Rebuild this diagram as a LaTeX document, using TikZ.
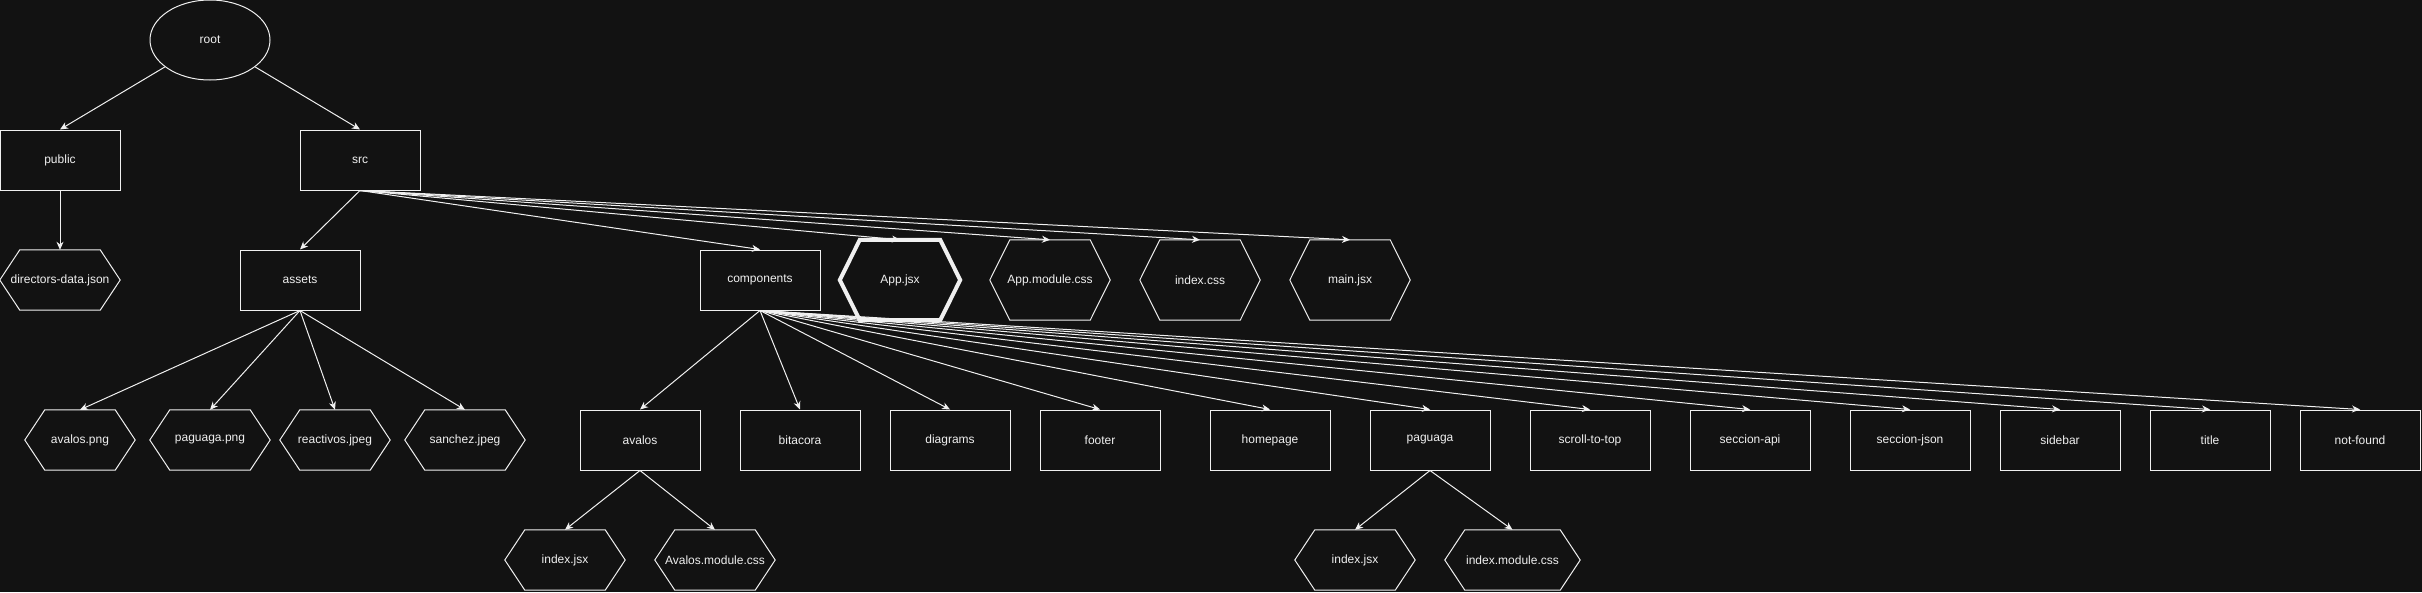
\documentclass[tikz,border=0pt]{standalone}
\usepackage{fontspec}
\setmainfont{Liberation Sans}
\usetikzlibrary{arrows.meta,shapes.geometric}
\definecolor{canvas}{HTML}{121212}
\definecolor{ink}{HTML}{F0F0F0}

\begin{document}
\begin{tikzpicture}[x=1pt, y=-1pt,
        every node/.style={font=\fontsize{12}{14}\selectfont, text=ink},
        folder/.style={draw=ink, line width=1pt, minimum width=120pt,
                       minimum height=60pt, inner sep=0pt},
        file/.style={minimum width=#1, minimum height=60pt, inner sep=0pt},
        file/.default=120pt,
        tall file/.style={minimum width=120pt, minimum height=80pt, inner sep=0pt},
        outline/.style={draw=ink, line width=1pt, line join=miter},
        link/.style={draw=ink, line width=1pt,
                     -{Stealth[length=8pt, width=7pt, inset=2.5pt]}},
    ]
        % Canvas
        \fill[canvas] (0,0) rectangle (2422,592);
        \useasboundingbox (0,0) rectangle (2422,592);

        % Root
        \node[draw=ink, ellipse, line width=1pt, minimum width=120pt,
              minimum height=80pt, inner sep=0pt] (root) at (210,40) {root};

        % First level
        \node[folder] (public) at (60,160) {public};
        \node[folder] (src) at (360,160) {src};

        % Second level
        \node[file] (dirjson) at (60,280) {directors-data.json};
        \node[folder] (assets) at (300,280) {assets};
        \node[folder] (components) at (760,280) {components};
        \node[tall file] (appjsx) at (900,280) {App.jsx};
        \node[tall file] (appcss) at (1050,280) {App.module.css};
        \node[tall file] (indexcss) at (1200,280) {index.css};
        \node[tall file] (mainjsx) at (1350,280) {main.jsx};

        % Assets
        \node[file=110pt] (avpng) at (80,440) {avalos.png};
        \node[file] (pagpng) at (210,440) {paguaga.png};
        \node[file=110pt] (reajpeg) at (335,440) {reactivos.jpeg};
        \node[file] (sanjpeg) at (465,440) {sanchez.jpeg};

        % Components
        \node[folder] (avalos) at (640,440) {avalos};
        \node[folder] (bitacora) at (800,440) {bitacora};
        \node[folder] (diagrams) at (950,440) {diagrams};
        \node[folder] (footer) at (1100,440) {footer};
        \node[folder] (homepage) at (1270,440) {homepage};
        \node[folder] (paguaga) at (1430,440) {paguaga};
        \node[folder] (scroll) at (1590,440) {scroll-to-top};
        \node[folder] (secapi) at (1750,440) {seccion-api};
        \node[folder] (secjson) at (1910,440) {seccion-json};
        \node[folder] (sidebar) at (2060,440) {sidebar};
        \node[folder] (title) at (2210,440) {title};
        \node[folder] (notfound) at (2360,440) {not-found};

        % Component files
        \node[file] (avindex) at (565,560) {index.jsx};
        \node[file] (avcss) at (715,560) {Avalos.module.css};
        \node[file] (pgindex) at (1355,560) {index.jsx};
        \node[file=135pt] (pgcss) at (1512.5,560) {index.module.css};

        % Hexagon outlines
        \foreach \f in {dirjson,appcss,indexcss,mainjsx,avpng,pagpng,reajpeg,sanjpeg,avindex,avcss,pgindex,pgcss}
            \draw[outline] ([xshift=20pt]\f.north west) -- ([xshift=-20pt]\f.north east)
                -- (\f.east) -- ([xshift=-20pt]\f.south east)
                -- ([xshift=20pt]\f.south west) -- (\f.west) -- cycle;
        \draw[outline, line width=4pt] ([xshift=20pt]appjsx.north west)
            -- ([xshift=-20pt]appjsx.north east) -- (appjsx.east)
            -- ([xshift=-20pt]appjsx.south east) -- ([xshift=20pt]appjsx.south west)
            -- (appjsx.west) -- cycle;

        % Arrows
        \draw[link] (root) -- (public.north);
        \draw[link] (root) -- (src.north);
        \draw[link] (public.south) -- (dirjson.north);
        \draw[link] (src.south) -- (assets.north);
        \draw[link] (src.south) -- (components.north);
        \draw[link] (src.south) -- (appjsx.north);
        \draw[link] (src.south) -- (appcss.north);
        \draw[link] (src.south) -- (indexcss.north);
        \draw[link] (src.south) -- (mainjsx.north);
        \draw[link] (assets.south) -- (avpng.north);
        \draw[link] (assets.south) -- (pagpng.north);
        \draw[link] (assets.south) -- (reajpeg.north);
        \draw[link] (assets.south) -- (sanjpeg.north);
        \draw[link] (components.south) -- (avalos.north);
        \draw[link] (components.south) -- (bitacora.north);
        \draw[link] (components.south) -- (diagrams.north);
        \draw[link] (components.south) -- (footer.north);
        \draw[link] (components.south) -- (homepage.north);
        \draw[link] (components.south) -- (paguaga.north);
        \draw[link] (components.south) -- (scroll.north);
        \draw[link] (components.south) -- (secapi.north);
        \draw[link] (components.south) -- (secjson.north);
        \draw[link] (components.south) -- (sidebar.north);
        \draw[link] (components.south) -- (title.north);
        \draw[link] (components.south) -- (notfound.north);
        \draw[link] (avalos.south) -- (avindex.north);
        \draw[link] (avalos.south) -- (avcss.north);
        \draw[link] (paguaga.south) -- (pgindex.north);
        \draw[link] (paguaga.south) -- (pgcss.north);
    \end{tikzpicture}
\end{document}
